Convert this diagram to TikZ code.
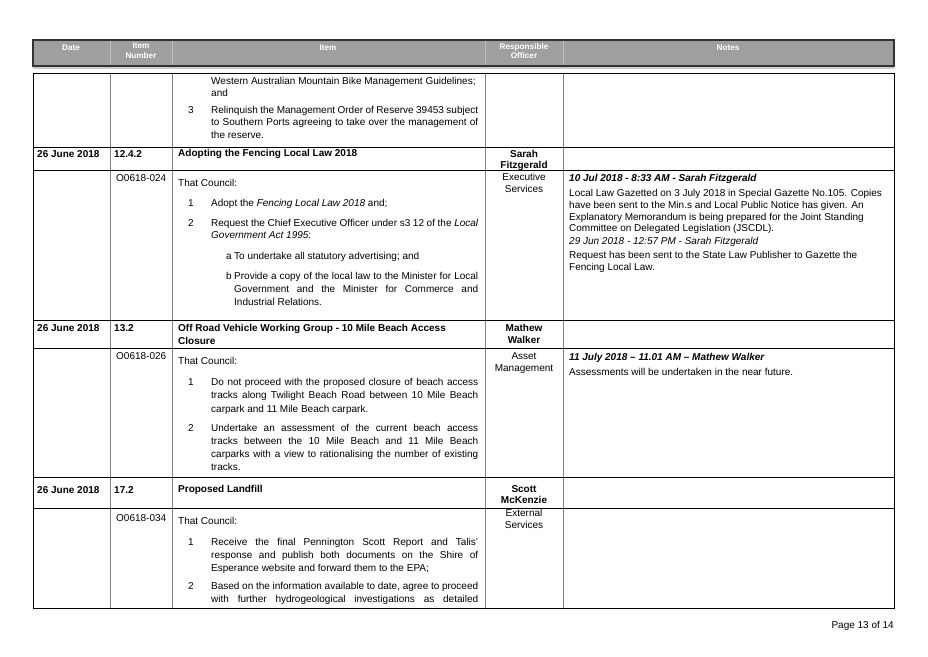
\documentclass[tikz,border=0pt]{standalone}
\usepackage{fontspec}
\setmainfont{Liberation Sans}
\newcommand\fs{\fontsize{10}{12}\selectfont}
\newcommand\tx[3]{\node[anchor=base west,inner sep=0,font=\fs] at (#1,#2) {#3};}
\newcommand\cx[3]{\node[anchor=base,inner sep=0,font=\fs] at (#1,#2) {#3};}
\newcommand\jx[4]{\node[anchor=base west,inner sep=0,font=\fs] at (#1,#2) {\makebox[#3pt][s]{#4}};}
\begin{document}
\begin{tikzpicture}[x=1pt,y=-1pt,
  hl/.style={black,line width=0.8pt},
  vl/.style={gray,line width=0.5pt}]
\useasboundingbox (0,0) rectangle (928,656);
% header
\fill[gray!75] (33,40) rectangle (894,66);
\draw[gray!40,line width=2pt] (33,68) -- (894,68);
\foreach \x in {110,172,485,563} \draw[gray!50,line width=0.6pt] (\x,40) -- (\x,66);
\draw[black!80,line width=1.2pt] (33,40) rectangle (894,66);
\foreach \x/\t in {71/Date,328/Item,728/Notes}
  \node[font=\fontsize{8.2}{9.5}\selectfont\bfseries,text=white,anchor=base] at (\x,50) {\t};
\node[font=\fontsize{8.2}{9.5}\selectfont\bfseries,text=white,align=center,anchor=north,inner sep=0] at (141,43) {Item\\Number};
\node[font=\fontsize{8.2}{9.5}\selectfont\bfseries,text=white,align=center,anchor=north,inner sep=0] at (524,43) {Responsible\\Officer};
% table lines
\foreach \x in {110,172,485,563} \draw[vl] (\x,73) -- (\x,608);
\foreach \y in {147,170,320,348,477,508} \draw[hl] (33,\y) -- (894,\y);
\draw[hl] (33,73) rectangle (894,608);
% row 1
\tx{211}{84}{Western Australian Mountain Bike Management Guidelines;}
\tx{211}{96}{and}
\tx{188}{113}{3}
\jx{211}{113}{267}{Relinquish the Management Order of Reserve 39453 subject}
\jx{211}{125}{267}{to Southern Ports agreeing to take over the management of}
\tx{211}{138}{the reserve.}
% row 12.4.2
\tx{37}{157}{\bfseries 26 June 2018}
\tx{114}{157}{\bfseries 12.4.2}
\tx{178}{156}{\bfseries Adopting the Fencing Local Law 2018}
\cx{524}{157}{\bfseries Sarah}
\cx{524}{168}{\bfseries Fitzgerald}
\tx{116}{181}{O0618-024}
\tx{178}{186}{That Council:}
\cx{524}{180}{Executive}
\cx{524}{192}{Services}
\tx{188}{206}{1}\tx{211}{206}{Adopt the \itshape Fencing Local Law 2018\upshape\ and;}
\tx{188}{226}{2}\jx{211}{226}{267}{Request the Chief Executive Officer under s3 12 of the \itshape Local}
\tx{211}{238}{\itshape Government Act 1995\upshape :}
\tx{226}{259}{a}\tx{234}{259}{To undertake all statutory advertising; and}
\tx{226}{279}{b}\jx{234}{279}{244}{Provide a copy of the local law to the Minister for Local}
\jx{234}{292}{244}{Government and the Minister for Commerce and}
\tx{234}{305}{Industrial Relations.}
\tx{569}{181}{\bfseries\itshape 10 Jul 2018 - 8:33 AM - Sarah Fitzgerald}
\tx{569}{196}{Local Law Gazetted on 3 July 2018 in Special Gazette No.105. Copies}
\tx{569}{208}{have been sent to the Min.s and Local Public Notice has given. An}
\tx{569}{220}{Explanatory Memorandum is being prepared for the Joint Standing}
\tx{569}{231}{Committee on Delegated Legislation (JSCDL).}
\tx{569}{244}{\itshape 29 Jun 2018 - 12:57 PM - Sarah Fitzgerald}
\tx{569}{258}{Request has been sent to the State Law Publisher to Gazette the}
\tx{569}{270}{Fencing Local Law.}
% row 13.2
\tx{37}{331}{\bfseries 26 June 2018}
\tx{114}{331}{\bfseries 13.2}
\tx{178}{331}{\bfseries Off Road Vehicle Working Group - 10 Mile Beach Access}
\tx{178}{344}{\bfseries Closure}
\cx{524}{331}{\bfseries Mathew}
\cx{524}{343}{\bfseries Walker}
\tx{116}{359}{O0618-026}
\cx{524}{359}{Asset}
\cx{524}{371}{Management}
\tx{178}{364}{That Council:}
\tx{188}{385}{1}\jx{211}{385}{267}{Do not proceed with the proposed closure of beach access}
\jx{211}{398}{267}{tracks along Twilight Beach Road between 10 Mile Beach}
\tx{211}{412}{carpark and 11 Mile Beach carpark.}
\tx{188}{431}{2}\jx{211}{431}{267}{Undertake an assessment of the current beach access}
\jx{211}{444}{267}{tracks between the 10 Mile Beach and 11 Mile Beach}
\jx{211}{457}{267}{carparks with a view to rationalising the number of existing}
\tx{211}{470}{tracks.}
\tx{569}{360}{\bfseries\itshape 11 July 2018 – 11.01 AM – Mathew Walker}
\tx{569}{375}{Assessments will be undertaken in the near future.}
% row 17.2
\tx{37}{493}{\bfseries 26 June 2018}
\tx{114}{493}{\bfseries 17.2}
\tx{178}{492}{\bfseries Proposed Landfill}
\cx{524}{492}{\bfseries Scott}
\cx{524}{503}{\bfseries McKenzie}
\tx{116}{521}{O0618-034}
\cx{524}{516}{External}
\cx{524}{528}{Services}
\tx{178}{524}{That Council:}
\tx{188}{545}{1}\jx{211}{545}{267}{Receive the final Pennington Scott Report and Talis'}
\jx{211}{558}{267}{response and publish both documents on the Shire of}
\tx{211}{571}{Esperance website and forward them to the EPA;}
\tx{188}{589}{2}\jx{211}{589}{267}{Based on the information available to date, agree to proceed}
\jx{211}{602}{267}{with further hydrogeological investigations as detailed}
% footer
\node[anchor=base east,inner sep=0,font=\fs] at (894,628) {Page 13 of 14};
\end{tikzpicture}
\end{document}
